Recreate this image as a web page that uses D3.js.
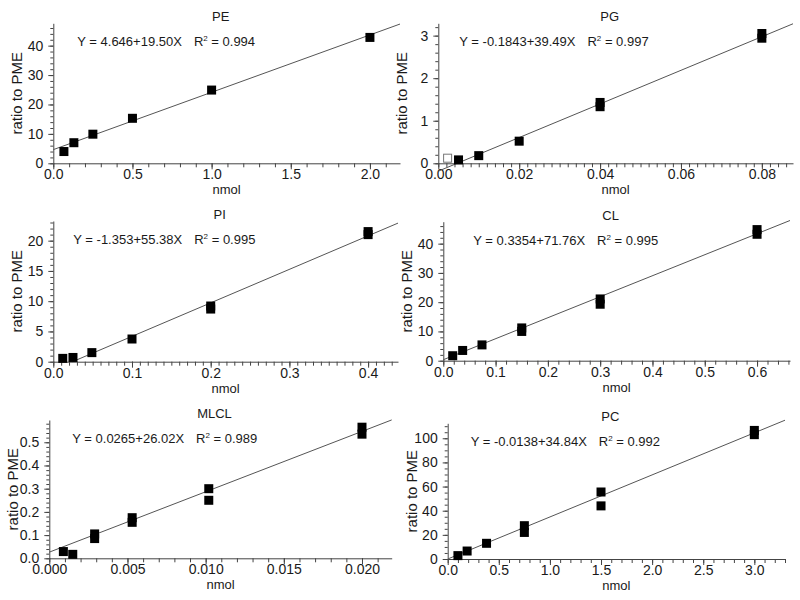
<!DOCTYPE html>
<html>
<head>
<meta charset="utf-8">
<script src="https://cdn.jsdelivr.net/npm/d3@7"></script>
<style>
  body { margin: 0; background: #fff; }
  text { font-family: Arial, "Liberation Sans", sans-serif; fill: #1a1a1a; }
</style>
</head>
<body>
<svg id="chart" width="800" height="600"></svg>
<script>
// panel names, in reading order
var names = ["PE", "PG", "PI", "CL", "MLCL", "PC"];

// measured points (nmol, ratio to PME)
var peX = [0.067, 0.13, 0.25, 0.5, 1.0, 2.0];
var peY = [4.0, 7.0, 9.9, 15.3, 24.9, 42.8];
var pgX = [0.005, 0.01, 0.02, 0.04, 0.04, 0.08, 0.08];
var pgY = [0.08, 0.18, 0.52, 1.33, 1.43, 2.94, 3.05];
var pgOpenX = [0.0023];
var pgOpenY = [0.12];
var piX = [0.012, 0.025, 0.049, 0.1, 0.2, 0.2, 0.4, 0.4];
var piY = [0.55, 0.7, 1.5, 3.75, 8.7, 9.2, 21.0, 21.5];
var clX = [0.018, 0.037, 0.074, 0.15, 0.15, 0.3, 0.3, 0.6, 0.6];
var clY = [1.7, 3.5, 5.4, 10.0, 11.2, 19.3, 21.1, 43.2, 44.8];
var mlclX = [0.0009, 0.0015, 0.0029, 0.0029, 0.0053, 0.0053, 0.0102, 0.0102, 0.02, 0.02];
var mlclY = [0.029, 0.017, 0.085, 0.105, 0.155, 0.175, 0.25, 0.30, 0.535, 0.565];
var pcX = [0.1, 0.19, 0.38, 0.75, 0.75, 1.5, 1.5, 3.0, 3.0];
var pcY = [2.8, 6.6, 13, 22, 27.6, 44, 55.5, 103, 106.5];

// linear fits
var intercepts = [4.646, -0.1843, -1.353, 0.3354, 0.0265, -0.0138];
var slopes = [19.50, 39.49, 55.38, 71.76, 26.02, 34.84];
var equations = ["Y = 4.646+19.50X", "Y = -0.1843+39.49X", "Y = -1.353+55.38X",
                 "Y = 0.3354+71.76X", "Y = 0.0265+26.02X", "Y = -0.0138+34.84X"];
var rSquared = ["0.994", "0.997", "0.995", "0.995", "0.989", "0.992"];

// axes
var xMax = [2.19, 0.0877, 0.438, 0.663, 0.0219, 3.3];
var yMax = [47.6, 3.29, 23.25, 47.5, 0.596, 112.4];
var lineFloor = [0, -0.2, 0, 0, 0, 0];
var xTicks = [[0, 0.5, 1, 1.5, 2], [0, 0.02, 0.04, 0.06, 0.08], [0, 0.1, 0.2, 0.3, 0.4],
              [0, 0.1, 0.2, 0.3, 0.4, 0.5, 0.6], [0, 0.005, 0.01, 0.015, 0.02], [0, 0.5, 1, 1.5, 2, 2.5, 3]];
var xMinorStep = [0.1, 0.002, 0.01, 0.02, 0.001, 0.1];
var xFormats = [".1f", ".2f", ".1f", ".1f", ".3f", ".1f"];
var yTicks = [[0, 10, 20, 30, 40], [0, 1, 2, 3], [0, 5, 10, 15, 20], [0, 10, 20, 30, 40],
              [0, 0.1, 0.2, 0.3, 0.4, 0.5], [0, 20, 40, 60, 80, 100]];
var yMinorStep = [2, 0.2, 1, 2, 0.02, 5];
var yFormats = ["d", "d", "d", "d", ".1f", "d"];

var allX = [peX, pgX, piX, clX, mlclX, pcX];
var allY = [peY, pgY, piY, clY, mlclY, pcY];

// plot boxes on the page
var boxes = [
  { x0: 53.3, x1: 400, top: 23.3, bottom: 163.3, eq: 24 },
  { x0: 438.3, x1: 793, top: 23.3, bottom: 163.3, eq: 21 },
  { x0: 53.3, x1: 398, top: 221, bottom: 361.7, eq: 20 },
  { x0: 443.3, x1: 790, top: 221.7, bottom: 360.7, eq: 30 },
  { x0: 49.3, x1: 391.7, top: 420, bottom: 558.3, eq: 23 },
  { x0: 447.7, x1: 785, top: 423.3, bottom: 559, eq: 23 }
];

var svg = d3.select("#chart");

var drawPanel = function (i) {
  var b = boxes[i];
  var x = d3.scaleLinear().domain([0, xMax[i]]).range([b.x0, b.x1]);
  var y = d3.scaleLinear().domain([0, yMax[i]]).range([b.bottom, b.top]);
  var g = svg.append("g");

  // minor ticks first, then the major axis on top
  var xMinor = d3.range(0, xMax[i] + 1e-9, xMinorStep[i]);
  var yMinor = d3.range(0, yMax[i] + 1e-9, yMinorStep[i]);

  g.append("g")
    .attr("transform", "translate(0," + b.bottom + ")")
    .call(d3.axisBottom(x).tickValues(xMinor).tickSize(4).tickFormat(""))
    .call(function (a) { a.select(".domain").remove(); });
  g.append("g")
    .attr("transform", "translate(" + b.x0 + ",0)")
    .call(d3.axisLeft(y).tickValues(yMinor).tickSize(3).tickFormat(""))
    .call(function (a) { a.select(".domain").remove(); });

  var xAxis = g.append("g")
    .attr("transform", "translate(0," + b.bottom + ")")
    .call(d3.axisBottom(x).tickValues(xTicks[i]).tickSize(6).tickSizeOuter(0)
      .tickPadding(0).tickFormat(d3.format(xFormats[i])));
  var yAxis = g.append("g")
    .attr("transform", "translate(" + b.x0 + ",0)")
    .call(d3.axisLeft(y).tickValues(yTicks[i]).tickSize(5).tickSizeOuter(0)
      .tickPadding(5).tickFormat(d3.format(yFormats[i])));

  [xAxis, yAxis].forEach(function (a) {
    a.selectAll("text").style("font-size", "14px").attr("fill", "#1a1a1a");
    a.select(".domain").attr("stroke", "#444");
  });
  g.selectAll("line").attr("stroke", "#444");

  // fit line
  var x0 = Math.max(0, (lineFloor[i] - intercepts[i]) / slopes[i]);
  var fit = [x0, xMax[i]].map(function (v) { return [v, intercepts[i] + slopes[i] * v]; });
  g.append("path")
    .attr("d", d3.line().x(function (d) { return x(d[0]); }).y(function (d) { return y(d[1]); })(fit))
    .attr("fill", "none")
    .attr("stroke", "#555")
    .attr("stroke-width", 1);

  // points
  var pts = allX[i].map(function (v, k) { return [v, allY[i][k]]; });
  var s = 9;
  g.selectAll(".pt")
    .data(pts)
    .enter().append("rect")
    .attr("class", "pt")
    .attr("x", function (d) { return x(d[0]) - s / 2; })
    .attr("y", function (d) { return y(d[1]) - s / 2; })
    .attr("width", s)
    .attr("height", s)
    .attr("fill", "#000");

  if (i === 1) {
    var open = pgOpenX.map(function (v, k) { return [v, pgOpenY[k]]; });
    g.selectAll(".open")
      .data(open)
      .enter().append("rect")
      .attr("class", "open")
      .attr("x", function (d) { return x(d[0]) - s / 2 + 0.5; })
      .attr("y", function (d) { return y(d[1]) - s / 2 + 0.5; })
      .attr("width", s - 1)
      .attr("height", s - 1)
      .attr("fill", "#fff")
      .attr("stroke", "#777");
  }

  var cx = (b.x0 + b.x1) / 2;

  // title
  g.append("text")
    .attr("x", cx - 6)
    .attr("y", b.top - 2)
    .attr("text-anchor", "middle")
    .style("font-size", "13px")
    .text(names[i]);

  // x label
  g.append("text")
    .attr("x", cx)
    .attr("y", b.bottom + 31)
    .attr("text-anchor", "middle")
    .style("font-size", "13px")
    .text("nmol");

  // y label
  g.append("text")
    .attr("transform", "translate(" + (b.x0 - 31) + "," + ((b.top + b.bottom) / 2) + ") rotate(-90)")
    .attr("text-anchor", "middle")
    .style("font-size", "15px")
    .text("ratio to PME");

  // equation
  var eq = g.append("text")
    .attr("x", b.x0 + b.eq)
    .attr("y", b.top + 23)
    .style("font-size", "13px");
  eq.append("tspan").text(equations[i]);
  eq.append("tspan").attr("dx", 12).text("R");
  eq.append("tspan").attr("dy", -5).style("font-size", "8px").text("2");
  eq.append("tspan").attr("dy", 5).text(" = " + rSquared[i]);
};

names.forEach(function (n, i) { drawPanel(i); });
</script>
</body>
</html>
